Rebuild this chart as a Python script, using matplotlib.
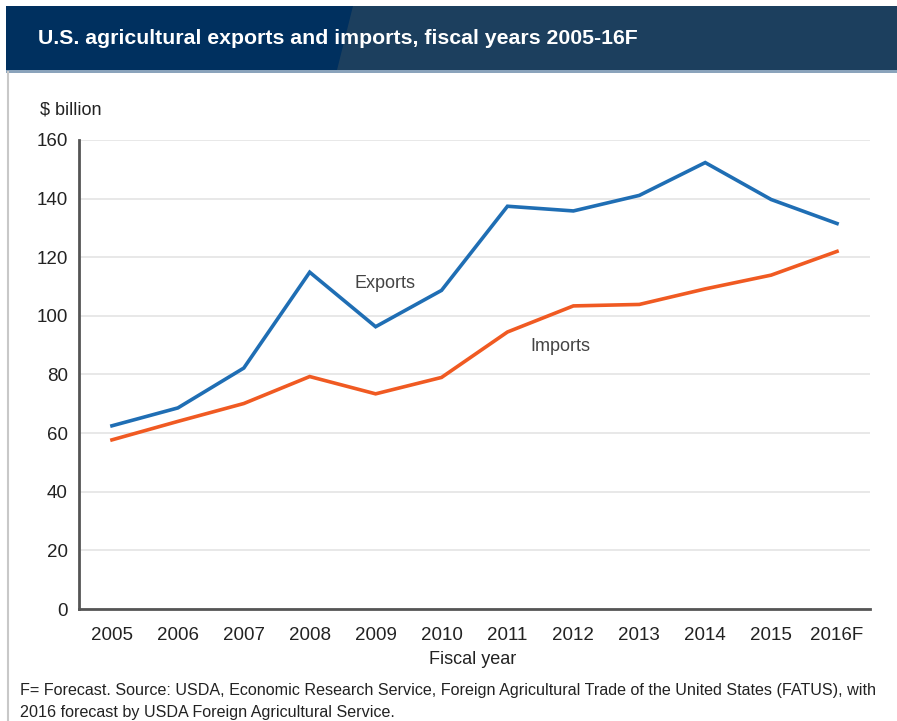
import numpy as np
import matplotlib.pyplot as plt
from matplotlib.patches import Rectangle, Polygon
from matplotlib.lines import Line2D

plt.rcParams['font.family'] = ['Liberation Sans', 'DejaVu Sans']

years = ['2005', '2006', '2007', '2008', '2009', '2010',
         '2011', '2012', '2013', '2014', '2015', '2016F']
exports = [62.5, 68.6, 82.2, 114.9, 96.3, 108.7, 137.4, 135.8, 141.1, 152.3, 139.7, 131.5]
imports = [57.7, 64.0, 70.1, 79.3, 73.4, 79.0, 94.5, 103.4, 103.9, 109.2, 113.9, 122.0]

fig = plt.figure(figsize=(8.97, 7.21), dpi=100)

# header bar and left frame line
fig.lines.append(Line2D([8/897, 8/897], [0, 1-72/721], transform=fig.transFigure,
                        color='#c8c8c8', lw=1.5))
fig.patches.append(Rectangle((6/897, 1-70/721), 891/897, 64/721, transform=fig.transFigure,
                             facecolor='#1c3f5e', edgecolor='none', zorder=1))
fig.patches.append(Polygon([(6/897, 1-6/721), (353/897, 1-6/721), (337/897, 1-70/721), (6/897, 1-70/721)],
                           closed=True, transform=fig.transFigure,
                           facecolor='#00305f', edgecolor='none', zorder=1))
fig.patches.append(Rectangle((6/897, 1-73/721), 891/897, 3/721, transform=fig.transFigure,
                             facecolor='#8aa3bb', edgecolor='none', zorder=1))
fig.text(38/897, 1-39/721, 'U.S. agricultural exports and imports, fiscal years 2005-16F',
         color='white', fontsize=15.3, fontweight='bold', va='center', ha='left')

ax = fig.add_axes([79/897, 1-609/721, 791/897, 469/721])
ax.set_zorder(3)
ax.patch.set_alpha(0)
x = np.arange(len(years))
ax.plot(x, exports, color='#1f6eb4', lw=2.6, solid_joinstyle='miter')
ax.plot(x, imports, color='#f05a22', lw=2.6, solid_joinstyle='miter')

ax.set_xlim(-0.5, 11.5)
ax.set_ylim(0, 160)
ax.set_yticks(np.arange(0, 161, 20))
ax.set_xticks(x)
ax.set_xticklabels(years)
ax.tick_params(length=0, labelsize=13.5, colors='#222222', pad=8)
ax.tick_params(axis='x', pad=13)
ax.grid(axis='y', color='#e4e4e4', lw=1.2)
ax.set_axisbelow(True)
for s in ['top', 'right']:
    ax.spines[s].set_visible(False)
for s in ['left', 'bottom']:
    ax.spines[s].set_color('#555555')
    ax.spines[s].set_linewidth(2)

ax.text(4.14, 111.2, 'Exports', fontsize=13, color='#444444', ha='center', va='center')
ax.text(6.8, 89.4, 'Imports', fontsize=13, color='#444444', ha='center', va='center')

fig.text(40/897, 1-110/721, '$ billion', fontsize=13, color='#222222', ha='left', va='center')
fig.text(473/897, 1-660/721, 'Fiscal year', fontsize=13, color='#222222', ha='center', va='center')
fig.text(20/897, 1-690/721,
         'F= Forecast. Source: USDA, Economic Research Service, Foreign Agricultural Trade of the United States (FATUS), with',
         fontsize=11.6, color='#222222', ha='left', va='center')
fig.text(20/897, 1-712/721, '2016 forecast by USDA Foreign Agricultural Service.',
         fontsize=11.6, color='#222222', ha='left', va='center')

plt.savefig('out.png', dpi=100)
